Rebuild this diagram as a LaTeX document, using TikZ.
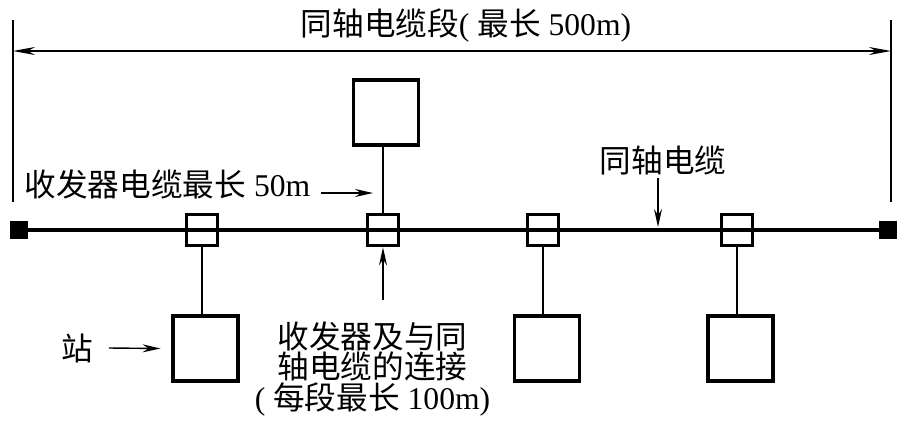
\documentclass[tikz,border=0pt]{standalone}
\usepackage{fontspec}
\setmainfont{Liberation Serif}
\newfontfamily\cjk{Noto Sans CJK SC}
\usepackage{tikz}
\usetikzlibrary{arrows.meta, positioning, calc}

\begin{document}
\begin{tikzpicture}[
    station/.style={draw, line width=2.2pt, minimum width=1.3cm, minimum height=1.3cm, inner sep=0pt},
    xcvr/.style={draw, line width=1.9pt, minimum width=0.61cm, minimum height=0.63cm, inner sep=0pt},
    term/.style={fill=black, minimum size=0.36cm, inner sep=0pt},
    bus/.style={line width=2.4pt},
    drop/.style={line width=1pt},
    dimline/.style={line width=0.7pt},
    lbl/.style={font=\fontsize{18}{17.6}\selectfont, inner sep=1pt, align=center},
    arrow/.style={-{Stealth[length=3.6mm, width=1.6mm, inset=1.2mm]}, line width=0.8pt},
    dimarrow/.style={{Stealth[length=4.4mm, width=1.6mm, inset=1.4mm]}-{Stealth[length=4.4mm, width=1.6mm, inset=1.4mm]}, line width=0.7pt},
]
\useasboundingbox (0,0) rectangle (18.22,8.56);

% Dimension of the segment
\coordinate (dl1) at (0.26, 8.16);
\coordinate (dl2) at (0.26, 4.52);
\coordinate (dr1) at (17.82, 8.16);
\coordinate (dr2) at (17.82, 4.52);
\coordinate (da1) at (0.26, 7.54);
\coordinate (da2) at (17.82, 7.54);
\draw[dimline] (dl1) -- (dl2);
\draw[dimline] (dr1) -- (dr2);
\draw[dimarrow] (da1) -- (da2);
\node[lbl] (title) at (9.32, 8.06) {{\cjk 同轴电缆段}( {\cjk 最长} 500m)};

% Terminators and cable
\node[term] (termL) at (0.38, 3.96) {};
\node[term] (termR) at (17.76, 3.96) {};
\draw[bus] (termL) -- (termR);

% Transceivers
\node[xcvr] (t1) at (4.04, 3.96) {};
\node[xcvr] (t2) at (7.66, 3.96) {};
\node[xcvr] (t3) at (10.86, 3.96) {};
\node[xcvr] (t4) at (14.74, 3.96) {};

% Stations
\node[station] (s0) at (7.72, 6.31) {};
\node[station] (s1) at (4.11, 1.59) {};
\node[station] (s3) at (10.94, 1.59) {};
\node[station] (s4) at (14.81, 1.59) {};

% Transceiver cables
\draw[drop] (t2.north) -- (t2.north |- s0.south);
\draw[drop] (t1.south) -- (t1.south |- s1.north);
\draw[drop] (t3.south) -- (t3.south |- s3.north);
\draw[drop] (t4.south) -- (t4.south |- s4.north);

% Labels
\node[lbl] (len50) at (3.35, 4.88) {{\cjk 收发器电缆最长} 50m};
\coordinate (c50) at (7.46, 4.70);
\draw[arrow] ([xshift=5pt]len50.east |- c50) -- (c50);

\node[lbl] (coax) at (13.26, 5.34) {{\cjk 同轴电缆}};
\coordinate (cbus) at (13.16, 4.02);
\draw[arrow] (cbus |- coax.south) -- (cbus);

\node[lbl] (zhan) at (1.54, 1.60) {{\cjk 站}};
\draw[arrow] ([xshift=8pt]zhan.east) -- ([xshift=-6pt]s1.west);

\node[lbl] (len100) at (7.45, 1.18) {{\cjk 收发器及与同}\\{\cjk 轴电缆的连接}\\( {\cjk 每段最长} 100m)};
\coordinate (c100) at (7.66, 2.56);
\draw[arrow] (c100) -- (t2.south);

\end{tikzpicture}
\end{document}
